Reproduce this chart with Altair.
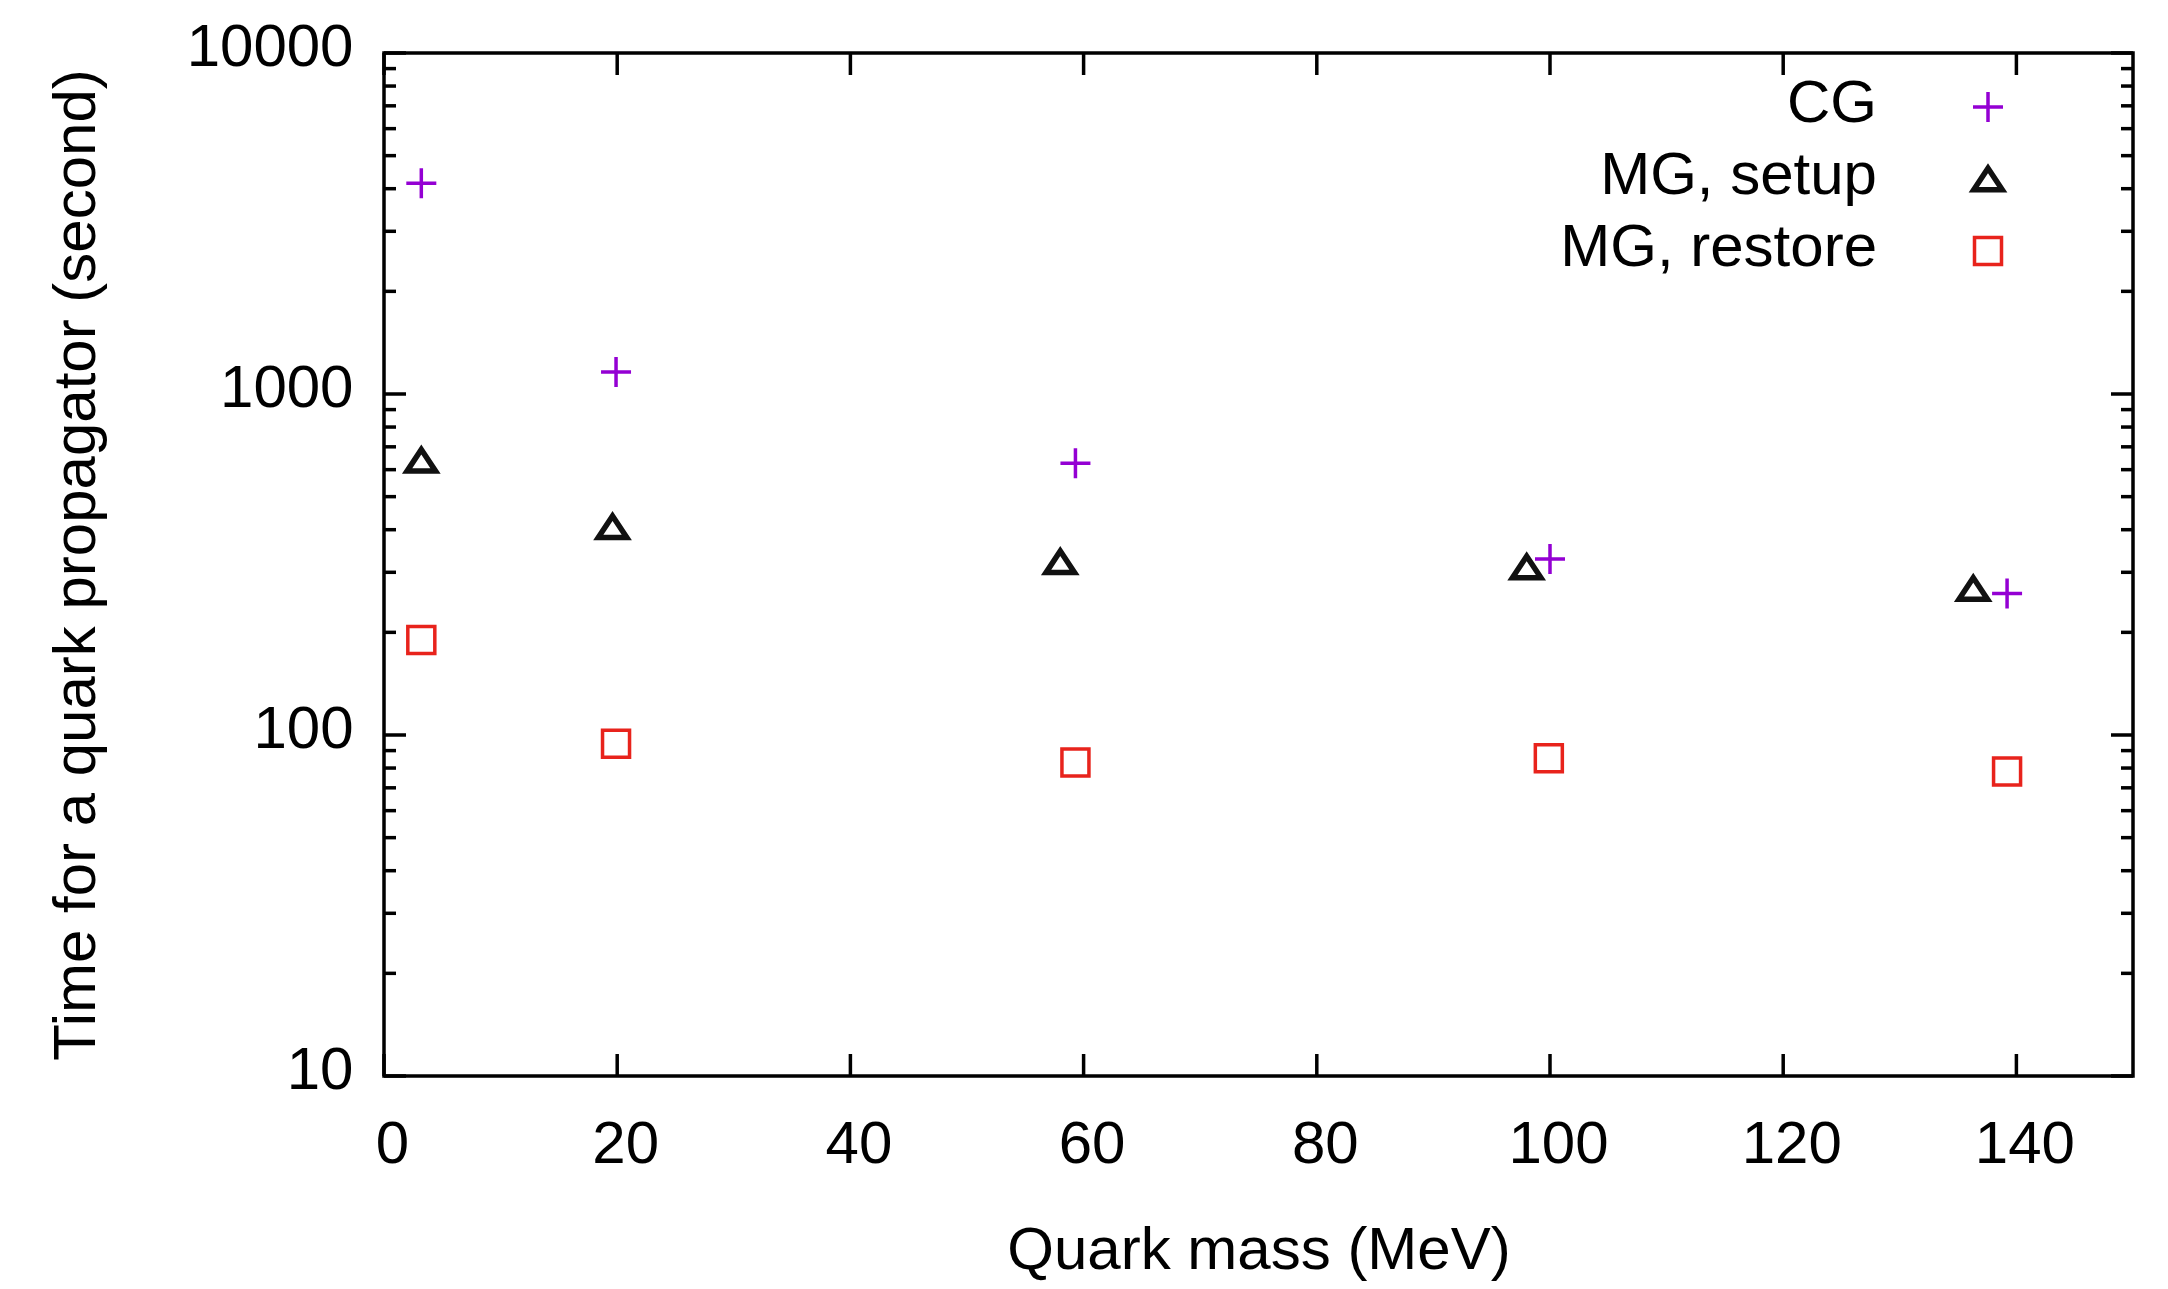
import altair as alt
import pandas as pd

# ---------------- data ----------------
series_names = ["CG", "MG, setup", "MG, restore"]

mass_cg = [3.2, 19.9, 59.3, 100.0, 139.2]
time_cg = [4150, 1160, 626, 328, 260]

mass_setup = [3.2, 19.6, 58.0, 98.0, 136.3]
time_setup = [639, 408, 322, 311, 269]

mass_restore = [3.2, 19.9, 59.3, 99.9, 139.2]
time_restore = [190, 94.3, 83.0, 85.4, 78.1]

x_major = [0, 20, 40, 60, 80, 100, 120, 140]
y_major = [10, 100, 1000, 10000]
y_minor = [20, 30, 40, 50, 60, 70, 80, 90,
           200, 300, 400, 500, 600, 700, 800, 900,
           2000, 3000, 4000, 5000, 6000, 7000, 8000, 9000]

# ---------------- styling ----------------
W, H = 1749, 1023
FONT = "Liberation Sans"
FS = 60
colors = ["#9400d3", "#111111", "#e8231c"]
stroke_widths = [3.5, 5.5, 3.5]
shapes = ["M-1,0L1,0M0,-1L0,1",
          "M0,-0.72L0.95,0.72L-0.95,0.72Z",
          "M-0.9,-0.9L0.9,-0.9L0.9,0.9L-0.9,0.9Z"]

df = pd.DataFrame({
    "series": [series_names[0]] * len(mass_cg)
    + [series_names[1]] * len(mass_setup)
    + [series_names[2]] * len(mass_restore),
    "mass": mass_cg + mass_setup + mass_restore,
    "time": time_cg + time_setup + time_restore,
})

x_scale = alt.Scale(domain=[0, 150], nice=False, zero=False)
y_scale = alt.Scale(type="log", domain=[10, 10000], nice=False)

x_axis = alt.Axis(values=x_major, format="d", title="Quark mass (MeV)",
                  ticks=False, tickSize=0, domain=False, grid=False,
                  labelFont=FONT, labelFontSize=FS, labelColor="black",
                  labelPadding=68, labelBaseline="middle", labelOffset=8,
                  labelFlush=False, labelOverlap=False,
                  titleFont=FONT, titleFontSize=FS, titleFontWeight="normal",
                  titleColor="black", titleX=W / 2, titleY=174,
                  titleAlign="center", titleBaseline="middle")
y_axis = alt.Axis(values=y_major, format="d",
                  title="Time for a quark propagator (second)",
                  ticks=False, tickSize=0, domain=False, grid=False,
                  labelFont=FONT, labelFontSize=FS, labelColor="black",
                  labelPadding=31, labelOffset=-6,
                  labelFlush=False, labelOverlap=False,
                  titleFont=FONT, titleFontSize=FS, titleFontWeight="normal",
                  titleColor="black", titleX=-308, titleY=H / 2,
                  titleAngle=270, titleAlign="center", titleBaseline="middle")

X = alt.X("mass:Q", scale=x_scale, axis=x_axis)
Y = alt.Y("time:Q", scale=y_scale, axis=y_axis)
shape_enc = alt.Shape("series:N", scale=alt.Scale(domain=series_names, range=shapes), legend=None)
color_enc = alt.Color("series:N", scale=alt.Scale(domain=series_names, range=colors), legend=None)
sw_enc = alt.StrokeWidth("series:N", scale=alt.Scale(type="ordinal", domain=series_names,
                                                     range=stroke_widths), legend=None)

points = alt.Chart(df).mark_point(filled=False, size=900, opacity=1).encode(
    x=X, y=Y, shape=shape_enc, color=color_enc, strokeWidth=sw_enc)

ymaj_df = pd.DataFrame({"time": y_major})
ymin_df = pd.DataFrame({"time": y_minor})
xmaj_df = pd.DataFrame({"mass": x_major})

def ytick(data, xpos, length):
    return alt.Chart(data).mark_tick(orient="horizontal", size=length, thickness=3.5,
                                     color="black", opacity=1).encode(
        y=Y, x=alt.value(xpos))

def xtick(data, ypos, length):
    return alt.Chart(data).mark_tick(orient="vertical", size=length, thickness=3.5,
                                     color="black", opacity=1).encode(
        x=X, y=alt.value(ypos))

main = alt.layer(
    ytick(ymaj_df, 11, 22), ytick(ymin_df, 6, 12),
    ytick(ymaj_df, W - 11, 22), ytick(ymin_df, W - 6, 12),
    xtick(xmaj_df, H - 11, 22), xtick(xmaj_df, 11, 22),
    points,
)

# ---------------- key (gnuplot style: label left, symbol right) ----------------
leg_df = pd.DataFrame({"series": series_names})
leg_y = alt.Y("series:N", scale=alt.Scale(type="point", domain=series_names,
                                           range=[54, 198], padding=0), axis=None)
leg_sym = alt.Chart(leg_df).mark_point(filled=False, size=900, opacity=1).encode(
    x=alt.value(1604), y=leg_y, shape=shape_enc, color=color_enc, strokeWidth=sw_enc)
leg_txt = alt.Chart(leg_df).mark_text(align="right", baseline="middle", font=FONT,
                                      fontSize=FS, color="black", dy=-3).encode(
    x=alt.value(1493), y=leg_y, text="series:N")
legend = alt.layer(leg_sym, leg_txt)

chart = alt.layer(main, legend).resolve_scale(y="independent").properties(
    width=W, height=H,
    autosize=alt.AutoSizeParams(type="none"),
    padding={"left": 384, "top": 53, "right": 35, "bottom": 213},
    background="white",
).configure_view(stroke="black", strokeWidth=3.5)

chart.save("out.html", embed_options={"renderer": "svg", "actions": False})
